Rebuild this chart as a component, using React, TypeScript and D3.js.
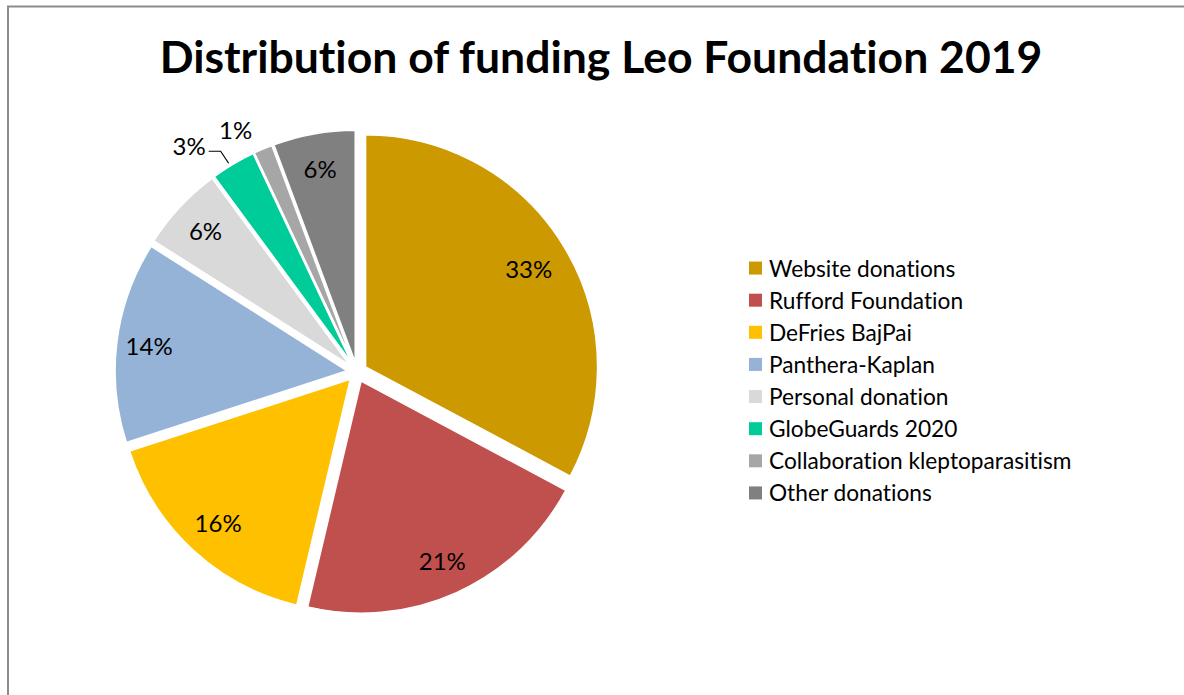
import React from "react";
import * as d3 from "d3";

const categories = [
  "Website donations",
  "Rufford Foundation",
  "DeFries BajPai",
  "Panthera-Kaplan",
  "Personal donation",
  "GlobeGuards 2020",
  "Collaboration kleptoparasitism",
  "Other donations",
];
const values = [32.8, 20.9, 16.3, 14.0, 5.9, 3.1, 1.3, 5.7];
const colors = ["#CC9900", "#C0504D", "#FFC000", "#95B3D7", "#D9D9D9", "#00CC99", "#A6A6A6", "#808080"];
const title = "Distribution of funding Leo Foundation 2019";

// label layout: inside label radius fraction, or outside with offsets (layout only)
const insideFrac = [0.82, 0.85, 0.84, 0.86, 0.85, 0.85, 0.85, 0.85];
const outsideLabels: Record<number, { dx: number; dy: number; leader: boolean }> = {
  5: { dx: -12, dy: -12, leader: true },
  6: { dx: -27, dy: -19, leader: false },
};

const W = 1184;
const H = 695;
const cx = 357;
const cy = 372;
const R = 232;
const explode = 10;
const FONT = "Lato, 'Open Sans', sans-serif";

export default function App() {
  const total = d3.sum(values);
  const pie = d3.pie<number>().sort(null).value((d) => d).startAngle(0).endAngle(2 * Math.PI);
  const arcs = pie(values);
  const arcGen = d3.arc<d3.PieArcDatum<number>>().innerRadius(0).outerRadius(R);

  const legendScale = d3.scaleBand<string>().domain(categories).range([252, 509]);

  return (
    <svg
      width={W}
      height={H}
      style={{ position: "absolute", left: 0, top: 0, background: "#fff", fontVariantLigatures: "none" }}
      fontFamily={FONT}
    >
      <rect x={8} y={6.5} width={W + 20} height={H + 20} fill="#fff" stroke="#8c8c8c" strokeWidth={2} />
      <text x={601} y={73} textAnchor="middle" fontSize={44.5} fontWeight={700} fill="#000">
        {title}
      </text>
      {arcs.map((a, i) => {
        const mid = (a.startAngle + a.endAngle) / 2;
        const ux = Math.sin(mid);
        const uy = -Math.cos(mid);
        const vx = cx + explode * ux;
        const vy = cy + explode * uy;
        const pct = Math.round((a.value / total) * 100) + "%";
        const out = outsideLabels[i];
        let label;
        if (!out) {
          const lx = vx + insideFrac[i] * R * ux;
          const ly = vy + insideFrac[i] * R * uy;
          label = (
            <text x={lx} y={ly} textAnchor="middle" dominantBaseline="central" fontSize={24} fill="#000">
              {pct}
            </text>
          );
        } else {
          const p0x = vx + (R + 1) * ux;
          const p0y = vy + (R + 1) * uy;
          if (out.leader) {
            const ex = p0x + out.dx;
            const ey = p0y + out.dy;
            const hx = ex - 12;
            label = (
              <g>
                <polyline
                  points={`${p0x - 4},${p0y} ${ex},${ey} ${hx},${ey}`}
                  fill="none"
                  stroke="#000"
                  strokeWidth={1.2}
                />
                <text x={hx - 3} y={ey - 6} textAnchor="end" dominantBaseline="central" fontSize={24} fill="#000">
                  {pct}
                </text>
              </g>
            );
          } else {
            label = (
              <text
                x={p0x + out.dx}
                y={p0y + out.dy}
                textAnchor="middle"
                dominantBaseline="central"
                fontSize={24}
                fill="#000"
              >
                {pct}
              </text>
            );
          }
        }
        return (
          <g key={categories[i]}>
            <path
              d={arcGen(a) || ""}
              transform={`translate(${vx},${vy})`}
              fill={colors[i]}
              stroke="#fff"
              strokeWidth={1.5}
              strokeLinejoin="round"
            />
            {label}
          </g>
        );
      })}
      {categories.map((c, i) => {
        const y = (legendScale(c) || 0) + legendScale.bandwidth() / 2;
        return (
          <g key={"lg" + c}>
            <rect x={749} y={y - 6.5} width={13} height={13} fill={colors[i]} />
            <text x={769} y={y} dominantBaseline="central" fontSize={22.7} fill="#000">
              {c}
            </text>
          </g>
        );
      })}
    </svg>
  );
}
